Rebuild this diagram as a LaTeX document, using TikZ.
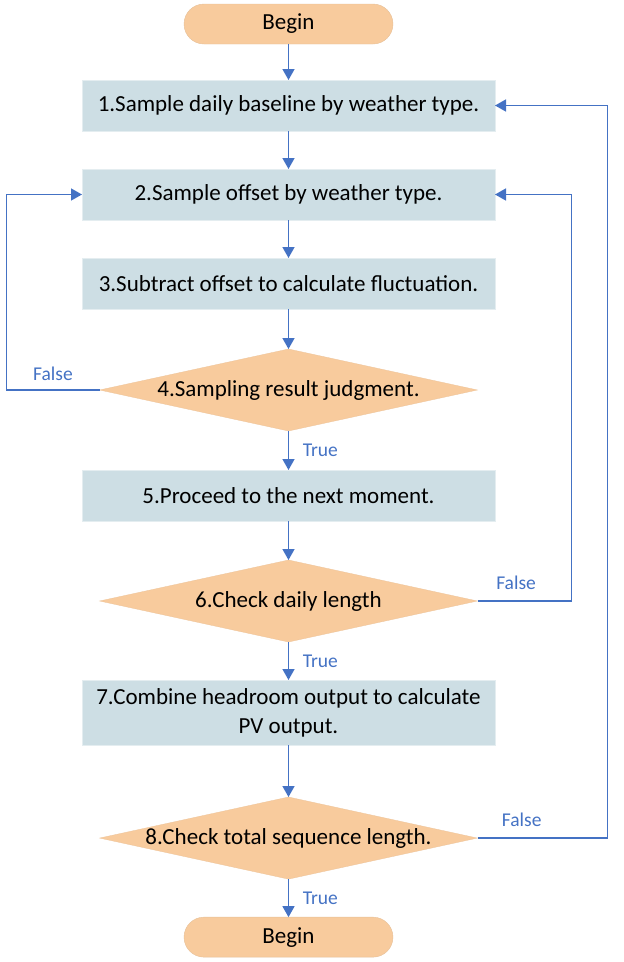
\documentclass[tikz,border=0pt]{standalone}
\usepackage{fontspec}
\setmainfont{Carlito}
\usetikzlibrary{positioning,shapes.geometric,arrows.meta}
\definecolor{stepcolor}{RGB}{205,222,228}
\definecolor{termcolor}{RGB}{248,203,157}
\definecolor{flowcolor}{RGB}{68,114,196}

\begin{document}
\begin{tikzpicture}[x=1pt,y=1pt,node distance=38pt,outer sep=0pt,
processbox/.style={
  draw=stepcolor!55!white,
  line width=0.4pt,
  fill=stepcolor,
  minimum width=413pt,
  minimum height=51pt,
  align=center,
  font={\fontsize{23}{29}\selectfont}},
terminal/.style={
  draw=termcolor!85!gray,
  line width=0.4pt,
  fill=termcolor,
  rounded corners=20pt,
  minimum width=209pt,
  minimum height=40pt,
  font={\fontsize{23}{29}\selectfont}},
decision/.style={
  diamond,
  aspect=4.6,
  inner sep=0pt,
  draw=termcolor!90!gray,
  line width=0.3pt,
  fill=termcolor,
  minimum width=378pt,
  minimum height=82pt,
  font={\fontsize{23}{29}\selectfont}},
flow/.style={
  draw=flowcolor,
  line width=1.5pt,
  -{Triangle[width=12pt,length=11pt]}},
branch/.style={
  font={\fontsize{19.5}{21}\selectfont},
  text=flowcolor},
]
\useasboundingbox (0,0) rectangle (624,-962);

\node[terminal] (BEGIN) at (288.5,-24) {Begin};
\node[processbox,below=36pt of BEGIN] (S1) {1.Sample daily baseline by weather type.};
\node[processbox,below=of S1] (S2) {2.Sample offset by weather type.};
\node[processbox,below=of S2] (S3) {3.Subtract offset to calculate fluctuation.};
\node[decision,below=40pt of S3] (D4) {4.Sampling result judgment.};
\node[processbox,below=39pt of D4] (S5) {5.Proceed to the next moment.};
\node[decision,below=39pt of S5] (D6) {6.Check daily length};
\node[processbox,below=of D6,minimum height=65pt] (S7) {7.Combine headroom output to calculate\\PV output.};
\node[decision,below=52pt of S7] (D8) {8.Check total sequence length.};
\node[terminal,below=of D8] (END) {Begin};

% main flow
\draw[flow] (BEGIN) -- (S1);
\draw[flow] (S1) -- (S2);
\draw[flow] (S2) -- (S3);
\draw[flow] (S3) -- (D4.north);
\draw[flow] (D4.south) -- node[branch,right=11pt]{True} (S5.north);
\draw[flow] (S5) -- (D6.north);
\draw[flow] (D6.south) -- node[branch,right=11pt]{True} (S7.north);
\draw[flow] (S7) -- (D8.north);
\draw[flow] (D8.south) -- node[branch,right=11pt]{True} (END.north);

% loops back
\draw[flow] (D4.west) -- node[branch,above=6pt]{False} ++(-93,0) |- (S2.west);
\draw[flow] (D6.east) -- node[branch,above=8pt,pos=0.41]{False} ++(94,0) |- (S2.east);
\draw[flow] (D8.east) -- node[branch,above=8pt,pos=0.34]{False} ++(130,0) |- (S1.east);
\end{tikzpicture}
\end{document}
